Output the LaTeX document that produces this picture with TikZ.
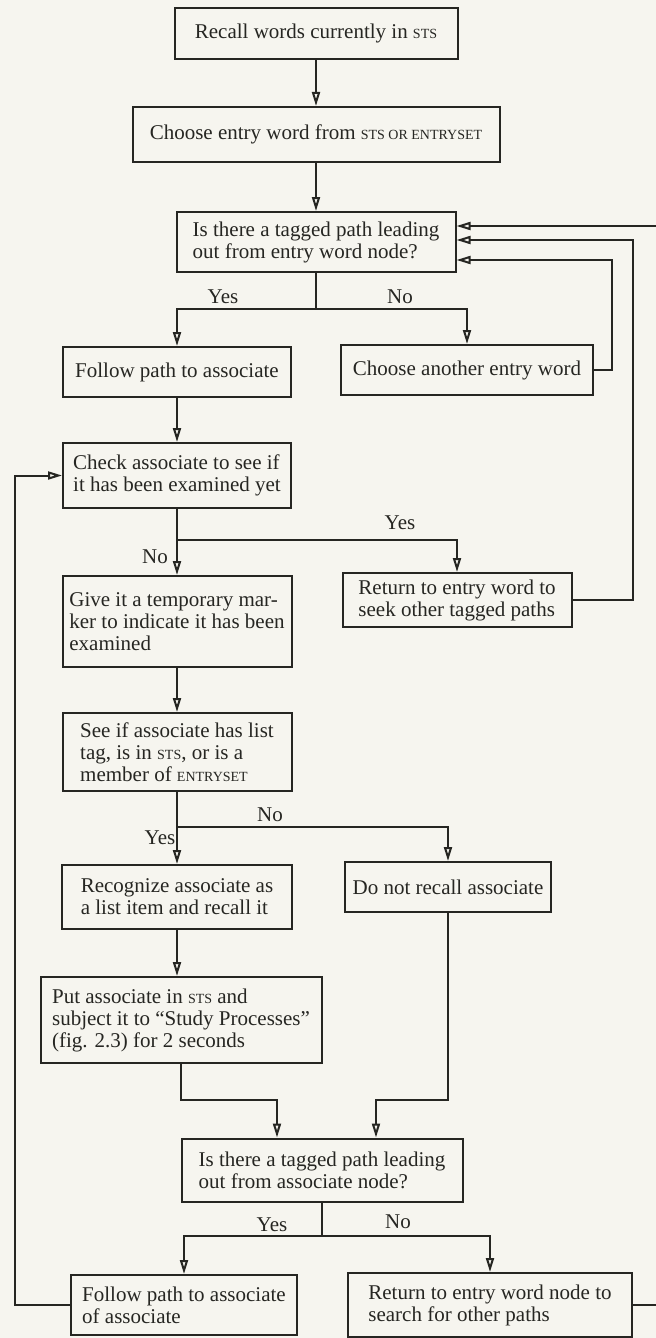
\documentclass[tikz,border=0pt]{standalone}
\usepackage{fontspec}
\setmainfont{Liberation Serif}
\usetikzlibrary{arrows.meta}
\newcommand{\smc}[1]{{\fontsize{7}{8}\selectfont #1}}
\definecolor{paper}{RGB}{246,245,239}
\definecolor{ink}{RGB}{38,38,34}

\begin{document}
\begin{tikzpicture}[x=0.5pt,y=-0.5pt,font=\fontsize{10.5}{11}\selectfont,color=ink]
    \tikzstyle{stepbox}=[rectangle,draw,line width=1pt,align=left,inner sep=2pt];
    \tikzstyle{flow}=[-{Triangle[open,length=7pt,width=4pt]},line width=1pt];
    \tikzstyle{answer}=[inner sep=0pt];

    \useasboundingbox (0,0) rectangle (656,1338);
    \fill[paper] (0,0) rectangle (656,1338);

    \node[stepbox,minimum width=141.5pt,minimum height=25.5pt] (recall) at (316,33.5) {Recall words currently in \smc{STS}};
    \node[stepbox,minimum width=183.5pt,minimum height=27.5pt] (choose) at (316,134.5) {Choose entry word from \smc{STS OR ENTRYSET}};
    \node[stepbox,minimum width=139.5pt,minimum height=30pt] (ask) at (316,242) {Is there a tagged path leading\\out from entry word node?};

    \node[stepbox,minimum width=114pt,minimum height=25pt] (follow) at (177,372) {Follow path to associate};
    \node[stepbox,minimum width=126pt,minimum height=25pt] (another) at (467,370) {Choose another entry word};

    \node[stepbox,minimum width=114pt,minimum height=32.5pt] (check) at (177,475.5) {Check associate to see if\\it has been examined yet};
    \node[stepbox,minimum width=114.5pt,minimum height=45.5pt] (give) at (177,621.5) {Give it a temporary mar-\\ker to indicate it has been\\examined};
    \node[stepbox,minimum width=114.5pt,minimum height=27pt] (back) at (457,600) {Return to entry word to\\seek other tagged paths};

    \node[stepbox,minimum width=114.5pt,minimum height=39pt] (see) at (177,752) {See if associate has list\\tag, is in \smc{STS}, or is a\\member of \smc{ENTRYSET}};
    \node[stepbox,minimum width=115pt,minimum height=32pt] (recog) at (177,897) {Recognize associate as\\a list item and recall it};
    \node[stepbox,minimum width=103pt,minimum height=25pt] (donot) at (448,887) {Do not recall associate};
    \node[stepbox,minimum width=140.5pt,minimum height=43pt] (put) at (181,1020) {Put associate in \smc{STS} and\\subject it to “Study Processes”\\(fig. 2.3) for 2 seconds};

    \node[stepbox,minimum width=140.5pt,minimum height=31.5pt] (ask2) at (322,1170) {Is there a tagged path leading\\out from associate node?};
    \node[stepbox,minimum width=113pt,minimum height=30pt] (follow2) at (184,1305) {Follow path to associate\\of associate};
    \node[stepbox,minimum width=142pt,minimum height=32pt] (back2) at (490,1305) {Return to entry word node to\\search for other paths};

    % branch points and rails
    \coordinate (split1) at (316,309);
    \coordinate (split2) at (177,540);
    \coordinate (split3) at (177,827);
    \coordinate (split4) at (322,1236);
    \coordinate (mergeL) at (277,1100);
    \coordinate (mergeR) at (376,1100);
    \coordinate (lrail) at (15,0);
    \coordinate (rail1) at (612,260);
    \coordinate (rail2) at (633,240);
    \coordinate (rail3) at (668,226); % runs past the trimmed right edge

    \draw[flow] (recall) -- (choose);
    \draw[flow] (choose) -- (ask);

    \draw[flow] (ask.south) -- (split1) -| (follow.north);
    \draw[flow] (split1) -| (another.north);
    \draw[flow] (another.east) -| (rail1) -- (rail1 -| ask.east);

    \draw[flow] (follow) -- (check);
    \draw[flow] (check.south) -- (split2) -- (give.north);
    \draw[flow] (split2) -| (back.north);
    \draw[flow] (back.east) -| (rail2) -- (rail2 -| ask.east);

    \draw[flow] (give) -- (see);
    \draw[flow] (see.south) -- (split3) -- (recog.north);
    \draw[flow] (split3) -| (donot.north);
    \draw[flow] (recog.south) -- (recog.south |- put.north);

    \draw[flow] (put.south) |- (mergeL) -- (mergeL |- ask2.north);
    \draw[flow] (donot.south) |- (mergeR) -- (mergeR |- ask2.north);

    \draw[flow] (ask2.south) -- (split4) -| (follow2.north);
    \draw[flow] (split4) -| (back2.north);

    \draw[flow] (follow2.west) -- (follow2.west -| lrail) |- (check.west);
    \draw[flow] (back2.east) -| (rail3) -- (rail3 -| ask.east);

    \node[answer] (yes1) at (223,297) {Yes};
    \node[answer] (no1) at (400,297) {No};
    \node[answer] (yes2) at (400,523) {Yes};
    \node[answer] (no2) at (155,557) {No};
    \node[answer] (no3) at (270,815) {No};
    \node[answer] (yes3) at (160,838) {Yes};
    \node[answer] (yes4) at (272,1225) {Yes};
    \node[answer] (no4) at (398,1222) {No};
\end{tikzpicture}
\end{document}
